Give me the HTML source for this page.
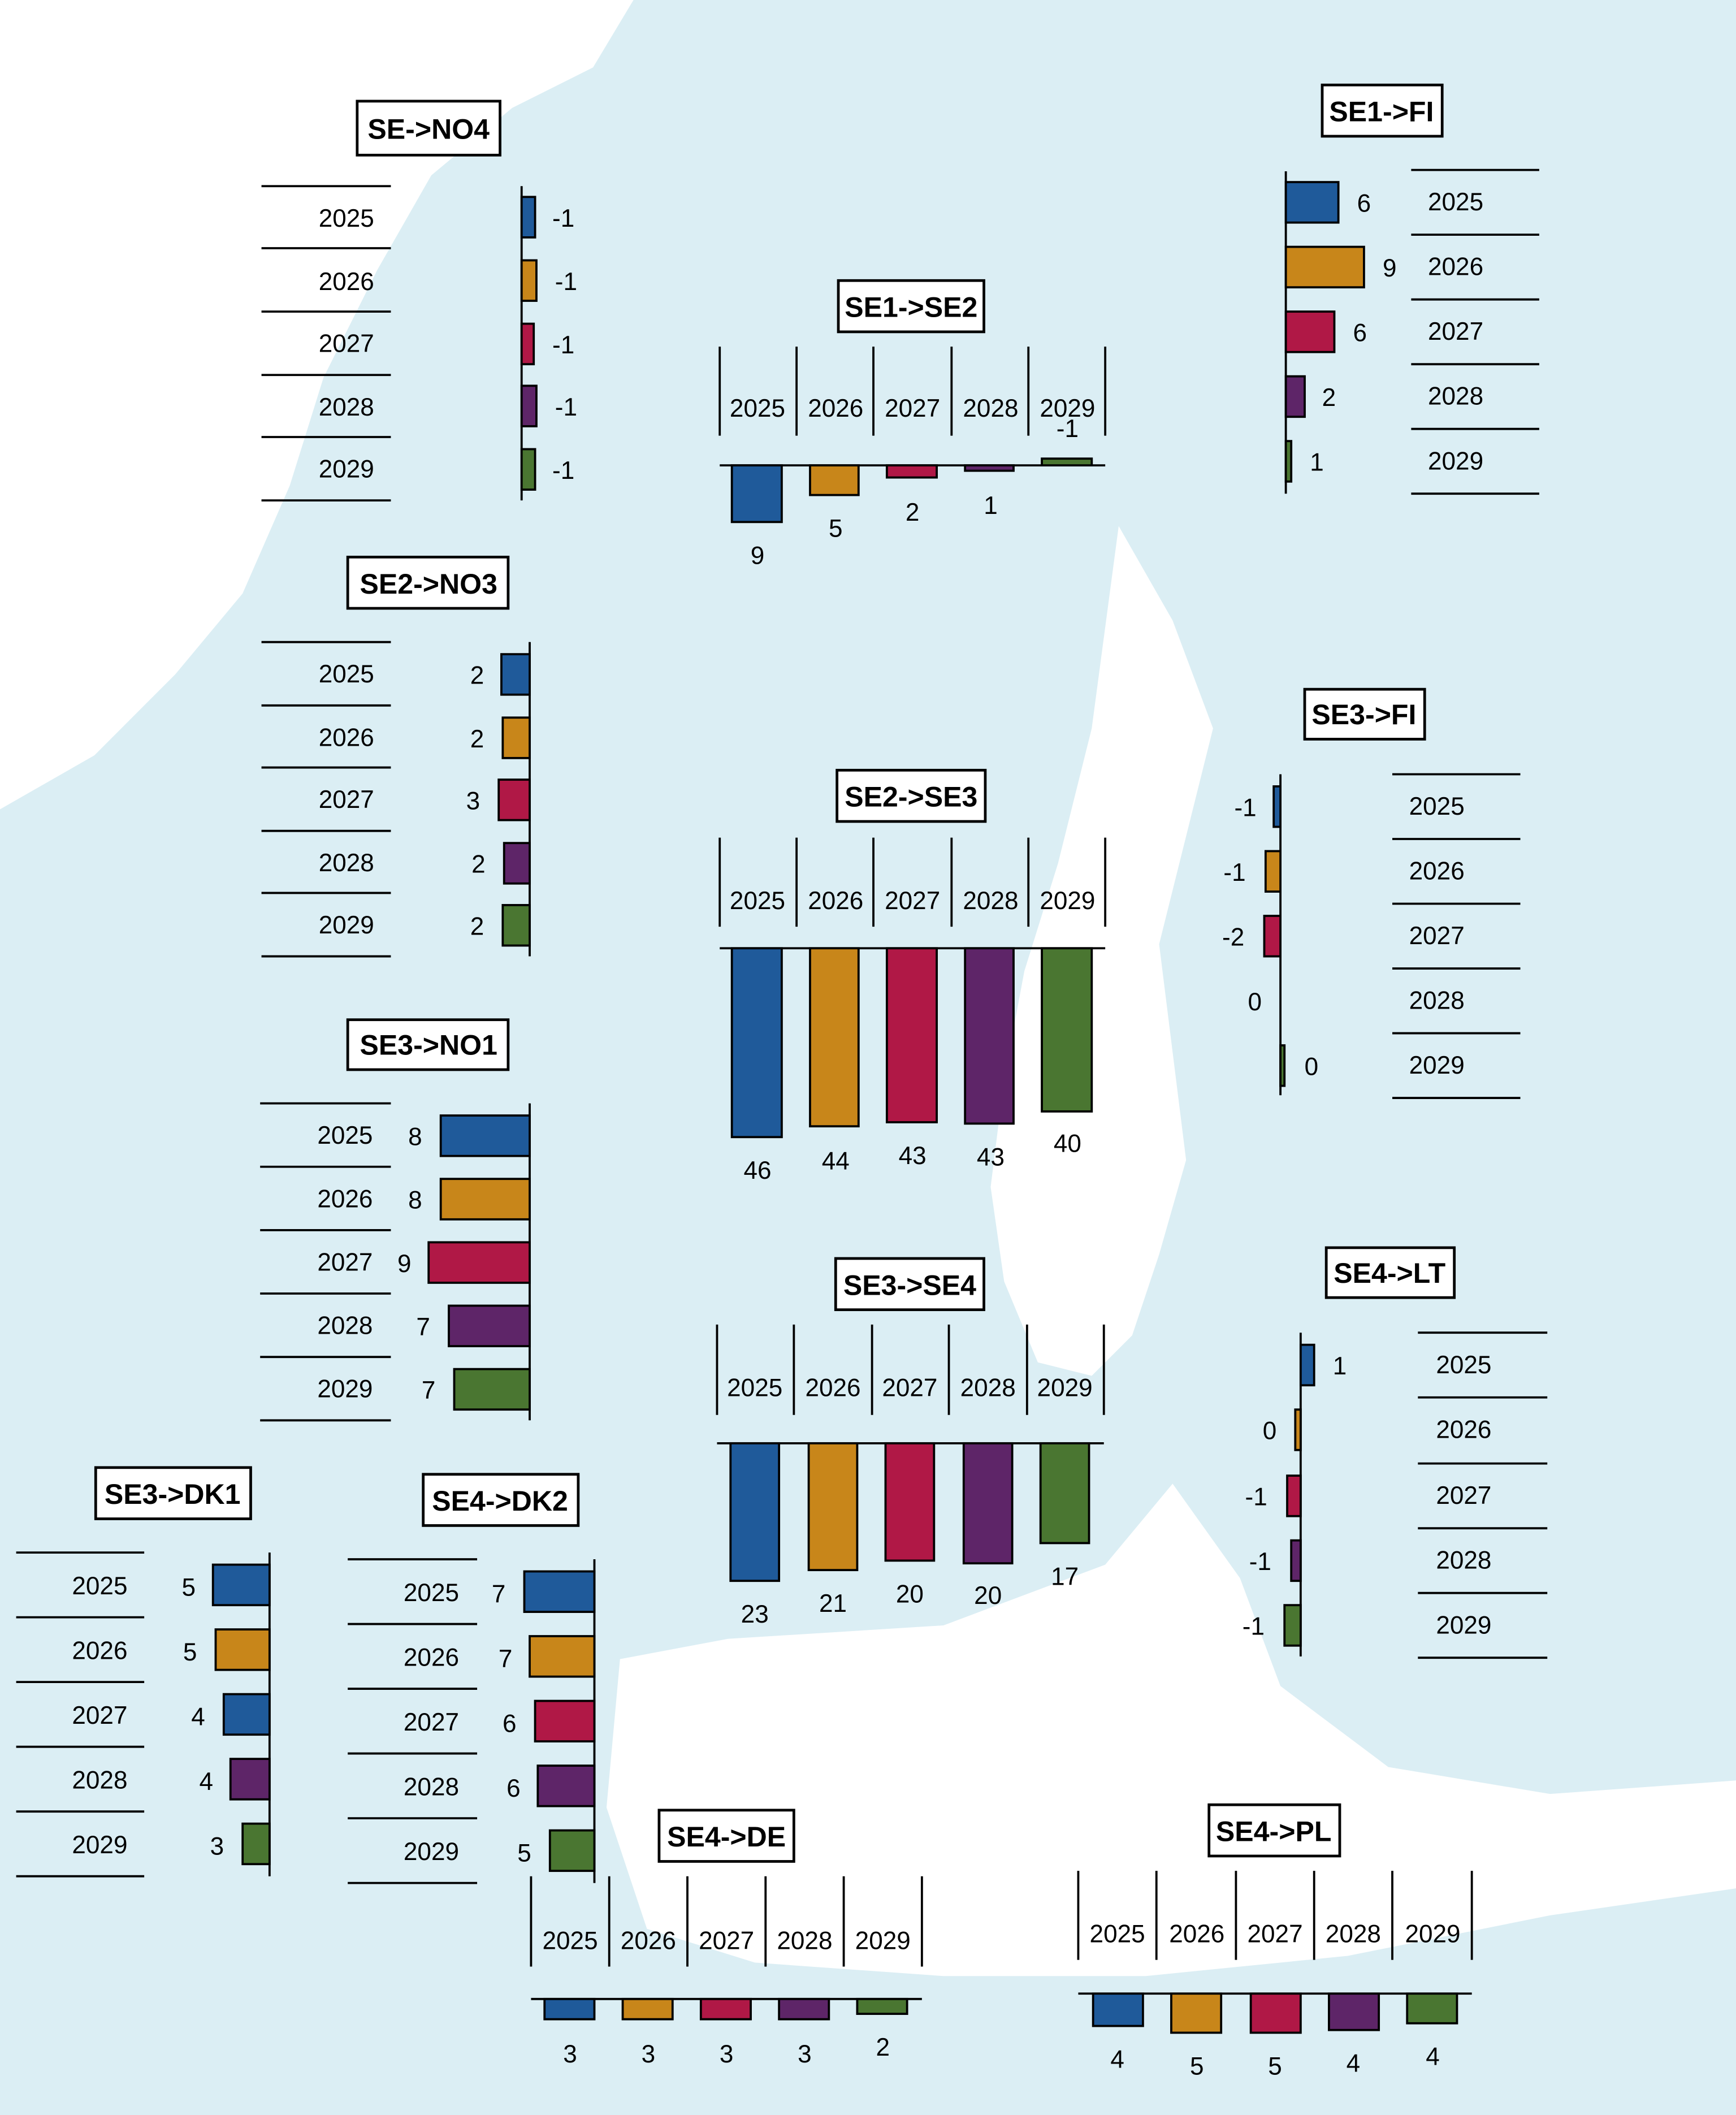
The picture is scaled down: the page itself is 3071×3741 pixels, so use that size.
<!DOCTYPE html>
<html><head><meta charset="utf-8"><style>
html,body{margin:0;padding:0;background:#fff;}
svg{display:block;}
text{font-family:"Liberation Sans",sans-serif;fill:#000;}
.y{font-size:18.5px;text-anchor:middle;}
.v{font-size:18.5px;text-anchor:middle;}
.t{font-size:21px;font-weight:bold;text-anchor:middle;}
.ln{stroke:#000;stroke-width:1.6;}
.bx{fill:#fff;stroke:#000;stroke-width:2;}
.b{stroke:#000;stroke-width:1.6;}
.c1{fill:#1f5a9a}.c2{fill:#c8861a}.c3{fill:#b01846}.c4{fill:#5e2568}.c5{fill:#4a7631}
</style></head><body>
<svg width="3071" height="3741" viewBox="0 0 1288 1568" preserveAspectRatio="none" xmlns="http://www.w3.org/2000/svg">
<rect width="1288" height="1568" fill="#dbeef4"/>
<!-- sea areas -->
<path d="M0,0 L470,0 L440,50 L380,80 L320,130 L280,200 L240,280 L215,360 L180,440 L130,500 L70,560 L0,600 Z" fill="#fff"/>
<path d="M830,390 L870,460 L900,540 L880,620 L860,700 L870,780 L880,860 L860,930 L840,990 L810,1020 L770,1010 L745,950 L735,880 L745,800 L760,720 L785,640 L810,540 Z" fill="#fff"/>
<path d="M460,1230 L540,1215 L700,1205 L820,1160 L870,1100 L920,1170 L950,1250 L1030,1310 L1150,1330 L1288,1320 L1288,1400 L1150,1420 L1000,1450 L850,1465 L700,1465 L560,1455 L480,1430 L450,1340 Z" fill="#fff"/>

<!-- SE->NO4 -->
<rect class="bx" x="265" y="75" width="106" height="40"/><text class="t" x="318" y="103">SE-&gt;NO4</text>
<g class="ln"><line x1="194" y1="138" x2="290" y2="138"/><line x1="194" y1="184" x2="290" y2="184"/><line x1="194" y1="231" x2="290" y2="231"/><line x1="194" y1="278" x2="290" y2="278"/><line x1="194" y1="324" x2="290" y2="324"/><line x1="194" y1="371" x2="290" y2="371"/><line x1="387" y1="138" x2="387" y2="371"/></g>
<text class="y" x="257" y="168">2025</text><text class="y" x="257" y="215">2026</text><text class="y" x="257" y="261">2027</text><text class="y" x="257" y="308">2028</text><text class="y" x="257" y="354">2029</text>
<rect class="b c1" x="387" y="146" width="10" height="30"/><rect class="b c2" x="387" y="193" width="11" height="30"/><rect class="b c3" x="387" y="240" width="9" height="30"/><rect class="b c4" x="387" y="286" width="11" height="30"/><rect class="b c5" x="387" y="333" width="10" height="30"/>
<text class="v" x="418" y="168">-1</text><text class="v" x="420" y="215">-1</text><text class="v" x="418" y="262">-1</text><text class="v" x="420" y="308">-1</text><text class="v" x="418" y="355">-1</text>

<!-- SE2->NO3 -->
<rect class="bx" x="258" y="413" width="119" height="38"/><text class="t" x="318" y="440">SE2-&gt;NO3</text>
<g class="ln"><line x1="194" y1="476" x2="290" y2="476"/><line x1="194" y1="523" x2="290" y2="523"/><line x1="194" y1="569" x2="290" y2="569"/><line x1="194" y1="616" x2="290" y2="616"/><line x1="194" y1="662" x2="290" y2="662"/><line x1="194" y1="709" x2="290" y2="709"/><line x1="393" y1="476" x2="393" y2="709"/></g>
<text class="y" x="257" y="506">2025</text><text class="y" x="257" y="553">2026</text><text class="y" x="257" y="599">2027</text><text class="y" x="257" y="646">2028</text><text class="y" x="257" y="692">2029</text>
<rect class="b c1" x="372" y="485" width="21" height="30"/><rect class="b c2" x="373" y="532" width="20" height="30"/><rect class="b c3" x="370" y="578" width="23" height="30"/><rect class="b c4" x="374" y="625" width="19" height="30"/><rect class="b c5" x="373" y="671" width="20" height="30"/>
<text class="v" x="354" y="507">2</text><text class="v" x="354" y="554">2</text><text class="v" x="351" y="600">3</text><text class="v" x="355" y="647">2</text><text class="v" x="354" y="693">2</text>

<!-- SE3->NO1 -->
<rect class="bx" x="258" y="756" width="119" height="37"/><text class="t" x="318" y="782">SE3-&gt;NO1</text>
<g class="ln"><line x1="193" y1="818" x2="290" y2="818"/><line x1="193" y1="865" x2="290" y2="865"/><line x1="193" y1="912" x2="290" y2="912"/><line x1="193" y1="959" x2="290" y2="959"/><line x1="193" y1="1006" x2="290" y2="1006"/><line x1="193" y1="1053" x2="290" y2="1053"/><line x1="393" y1="818" x2="393" y2="1053"/></g>
<text class="y" x="256" y="848">2025</text><text class="y" x="256" y="895">2026</text><text class="y" x="256" y="942">2027</text><text class="y" x="256" y="989">2028</text><text class="y" x="256" y="1036">2029</text>
<rect class="b c1" x="327" y="827" width="66" height="30"/><rect class="b c2" x="327" y="874" width="66" height="30"/><rect class="b c3" x="318" y="921" width="75" height="30"/><rect class="b c4" x="333" y="968" width="60" height="30"/><rect class="b c5" x="337" y="1015" width="56" height="30"/>
<text class="v" x="308" y="849">8</text><text class="v" x="308" y="896">8</text><text class="v" x="300" y="943">9</text><text class="v" x="314" y="990">7</text><text class="v" x="318" y="1037">7</text>

<!-- SE3->DK1 -->
<rect class="bx" x="71" y="1088" width="115" height="38"/><text class="t" x="128" y="1115">SE3-&gt;DK1</text>
<g class="ln"><line x1="12" y1="1151" x2="107" y2="1151"/><line x1="12" y1="1199" x2="107" y2="1199"/><line x1="12" y1="1247" x2="107" y2="1247"/><line x1="12" y1="1295" x2="107" y2="1295"/><line x1="12" y1="1343" x2="107" y2="1343"/><line x1="12" y1="1391" x2="107" y2="1391"/><line x1="200" y1="1151" x2="200" y2="1391"/></g>
<text class="y" x="74" y="1182">2025</text><text class="y" x="74" y="1230">2026</text><text class="y" x="74" y="1278">2027</text><text class="y" x="74" y="1326">2028</text><text class="y" x="74" y="1374">2029</text>
<rect class="b c1" x="158" y="1160" width="42" height="30"/><rect class="b c2" x="160" y="1208" width="40" height="30"/><rect class="b c1" x="166" y="1256" width="34" height="30"/><rect class="b c4" x="171" y="1304" width="29" height="30"/><rect class="b c5" x="180" y="1352" width="20" height="30"/>
<text class="v" x="140" y="1183">5</text><text class="v" x="141" y="1231">5</text><text class="v" x="147" y="1279">4</text><text class="v" x="153" y="1327">4</text><text class="v" x="161" y="1375">3</text>

<!-- SE4->DK2 -->
<rect class="bx" x="314" y="1093" width="115" height="38"/><text class="t" x="371" y="1120">SE4-&gt;DK2</text>
<g class="ln"><line x1="258" y1="1156" x2="354" y2="1156"/><line x1="258" y1="1204" x2="354" y2="1204"/><line x1="258" y1="1252" x2="354" y2="1252"/><line x1="258" y1="1300" x2="354" y2="1300"/><line x1="258" y1="1348" x2="354" y2="1348"/><line x1="258" y1="1396" x2="354" y2="1396"/><line x1="441" y1="1156" x2="441" y2="1396"/></g>
<text class="y" x="320" y="1187">2025</text><text class="y" x="320" y="1235">2026</text><text class="y" x="320" y="1283">2027</text><text class="y" x="320" y="1331">2028</text><text class="y" x="320" y="1379">2029</text>
<rect class="b c1" x="389" y="1165" width="52" height="30"/><rect class="b c2" x="393" y="1213" width="48" height="30"/><rect class="b c3" x="397" y="1261" width="44" height="30"/><rect class="b c4" x="399" y="1309" width="42" height="30"/><rect class="b c5" x="408" y="1357" width="33" height="30"/>
<text class="v" x="370" y="1188">7</text><text class="v" x="375" y="1236">7</text><text class="v" x="378" y="1284">6</text><text class="v" x="381" y="1332">6</text><text class="v" x="389" y="1380">5</text>

<!-- SE1->FI -->
<rect class="bx" x="981" y="63" width="89" height="38"/><text class="t" x="1025" y="90">SE1-&gt;FI</text>
<g class="ln"><line x1="1047" y1="126" x2="1142" y2="126"/><line x1="1047" y1="174" x2="1142" y2="174"/><line x1="1047" y1="222" x2="1142" y2="222"/><line x1="1047" y1="270" x2="1142" y2="270"/><line x1="1047" y1="318" x2="1142" y2="318"/><line x1="1047" y1="366" x2="1142" y2="366"/><line x1="954" y1="127" x2="954" y2="366"/></g>
<text class="y" x="1080" y="156">2025</text><text class="y" x="1080" y="204">2026</text><text class="y" x="1080" y="252">2027</text><text class="y" x="1080" y="300">2028</text><text class="y" x="1080" y="348">2029</text>
<rect class="b c1" x="954" y="135" width="39" height="30"/><rect class="b c2" x="954" y="183" width="58" height="30"/><rect class="b c3" x="954" y="231" width="36" height="30"/><rect class="b c4" x="954" y="279" width="14" height="30"/><rect class="b c5" x="954" y="327" width="4" height="30"/>
<text class="v" x="1012" y="157">6</text><text class="v" x="1031" y="205">9</text><text class="v" x="1009" y="253">6</text><text class="v" x="986" y="301">2</text><text class="v" x="977" y="349">1</text>

<!-- SE3->FI -->
<rect class="bx" x="968" y="511" width="89" height="37"/><text class="t" x="1012" y="537">SE3-&gt;FI</text>
<g class="ln"><line x1="1033" y1="574" x2="1128" y2="574"/><line x1="1033" y1="622" x2="1128" y2="622"/><line x1="1033" y1="670" x2="1128" y2="670"/><line x1="1033" y1="718" x2="1128" y2="718"/><line x1="1033" y1="766" x2="1128" y2="766"/><line x1="1033" y1="814" x2="1128" y2="814"/><line x1="950" y1="574" x2="950" y2="812"/></g>
<text class="y" x="1066" y="604">2025</text><text class="y" x="1066" y="652">2026</text><text class="y" x="1066" y="700">2027</text><text class="y" x="1066" y="748">2028</text><text class="y" x="1066" y="796">2029</text>
<rect class="b c1" x="945" y="583" width="5" height="30"/><rect class="b c2" x="939" y="631" width="11" height="30"/><rect class="b c3" x="938" y="679" width="12" height="30"/><rect class="b c5" x="950" y="775" width="3" height="30"/>
<text class="v" x="924" y="605">-1</text><text class="v" x="916" y="653">-1</text><text class="v" x="915" y="701">-2</text><text class="v" x="931" y="749">0</text><text class="v" x="973" y="797">0</text>

<!-- SE4->LT -->
<rect class="bx" x="984" y="925" width="95" height="37"/><text class="t" x="1031" y="951">SE4-&gt;LT</text>
<g class="ln"><line x1="1052" y1="988" x2="1148" y2="988"/><line x1="1052" y1="1036" x2="1148" y2="1036"/><line x1="1052" y1="1085" x2="1148" y2="1085"/><line x1="1052" y1="1133" x2="1148" y2="1133"/><line x1="1052" y1="1181" x2="1148" y2="1181"/><line x1="1052" y1="1229" x2="1148" y2="1229"/><line x1="965" y1="988" x2="965" y2="1228"/></g>
<text class="y" x="1086" y="1018">2025</text><text class="y" x="1086" y="1066">2026</text><text class="y" x="1086" y="1115">2027</text><text class="y" x="1086" y="1163">2028</text><text class="y" x="1086" y="1211">2029</text>
<rect class="b c1" x="965" y="997" width="10" height="30"/><rect class="b c2" x="961" y="1045" width="4" height="30"/><rect class="b c3" x="955" y="1094" width="10" height="30"/><rect class="b c4" x="958" y="1142" width="7" height="30"/><rect class="b c5" x="953" y="1190" width="12" height="30"/>
<text class="v" x="994" y="1019">1</text><text class="v" x="942" y="1067">0</text><text class="v" x="932" y="1116">-1</text><text class="v" x="935" y="1164">-1</text><text class="v" x="930" y="1212">-1</text>

<!-- SE1->SE2 -->
<rect class="bx" x="622" y="208" width="108" height="38"/><text class="t" x="676" y="235">SE1-&gt;SE2</text>
<g class="ln"><line x1="534" y1="257" x2="534" y2="323"/><line x1="591" y1="257" x2="591" y2="323"/><line x1="648" y1="257" x2="648" y2="323"/><line x1="706" y1="257" x2="706" y2="323"/><line x1="763" y1="257" x2="763" y2="323"/><line x1="820" y1="257" x2="820" y2="323"/><line x1="534" y1="345" x2="820" y2="345"/></g>
<text class="y" x="562" y="309">2025</text><text class="y" x="620" y="309">2026</text><text class="y" x="677" y="309">2027</text><text class="y" x="735" y="309">2028</text><text class="y" x="792" y="309">2029</text>
<rect class="b c1" x="543" y="345" width="37" height="42"/><rect class="b c2" x="601" y="345" width="36" height="22"/><rect class="b c3" x="658" y="345" width="37" height="9"/><rect class="b c4" x="716" y="345" width="36" height="4"/><rect class="b c5" x="773" y="340" width="37" height="5"/>
<text class="v" x="562" y="418">9</text><text class="v" x="620" y="398">5</text><text class="v" x="677" y="386">2</text><text class="v" x="735" y="381">1</text><text class="v" x="792" y="324">-1</text>

<!-- SE2->SE3 -->
<rect class="bx" x="621" y="571" width="110" height="38"/><text class="t" x="676" y="598">SE2-&gt;SE3</text>
<g class="ln"><line x1="534" y1="621" x2="534" y2="687"/><line x1="591" y1="621" x2="591" y2="687"/><line x1="648" y1="621" x2="648" y2="687"/><line x1="706" y1="621" x2="706" y2="687"/><line x1="763" y1="621" x2="763" y2="687"/><line x1="820" y1="621" x2="820" y2="687"/><line x1="534" y1="703" x2="820" y2="703"/></g>
<text class="y" x="562" y="674">2025</text><text class="y" x="620" y="674">2026</text><text class="y" x="677" y="674">2027</text><text class="y" x="735" y="674">2028</text><text class="y" x="792" y="674">2029</text>
<rect class="b c1" x="543" y="703" width="37" height="140"/><rect class="b c2" x="601" y="703" width="36" height="132"/><rect class="b c3" x="658" y="703" width="37" height="129"/><rect class="b c4" x="716" y="703" width="36" height="130"/><rect class="b c5" x="773" y="703" width="37" height="121"/>
<text class="v" x="562" y="874">46</text><text class="v" x="620" y="867">44</text><text class="v" x="677" y="863">43</text><text class="v" x="735" y="864">43</text><text class="v" x="792" y="854">40</text>

<!-- SE3->SE4 -->
<rect class="bx" x="620" y="933" width="110" height="38"/><text class="t" x="675" y="960">SE3-&gt;SE4</text>
<g class="ln"><line x1="532" y1="982" x2="532" y2="1049"/><line x1="589" y1="982" x2="589" y2="1049"/><line x1="647" y1="982" x2="647" y2="1049"/><line x1="704" y1="982" x2="704" y2="1049"/><line x1="762" y1="982" x2="762" y2="1049"/><line x1="819" y1="982" x2="819" y2="1049"/><line x1="532" y1="1070" x2="819" y2="1070"/></g>
<text class="y" x="560" y="1035">2025</text><text class="y" x="618" y="1035">2026</text><text class="y" x="675" y="1035">2027</text><text class="y" x="733" y="1035">2028</text><text class="y" x="790" y="1035">2029</text>
<rect class="b c1" x="542" y="1070" width="36" height="102"/><rect class="b c2" x="600" y="1070" width="36" height="94"/><rect class="b c3" x="657" y="1070" width="36" height="87"/><rect class="b c4" x="715" y="1070" width="36" height="89"/><rect class="b c5" x="772" y="1070" width="36" height="74"/>
<text class="v" x="560" y="1203">23</text><text class="v" x="618" y="1195">21</text><text class="v" x="675" y="1188">20</text><text class="v" x="733" y="1189">20</text><text class="v" x="790" y="1175">17</text>

<!-- SE4->DE -->
<rect class="bx" x="489" y="1342" width="100" height="38"/><text class="t" x="539" y="1369">SE4-&gt;DE</text>
<g class="ln"><line x1="394" y1="1391" x2="394" y2="1458"/><line x1="452" y1="1391" x2="452" y2="1458"/><line x1="510" y1="1391" x2="510" y2="1458"/><line x1="568" y1="1391" x2="568" y2="1458"/><line x1="626" y1="1391" x2="626" y2="1458"/><line x1="684" y1="1391" x2="684" y2="1458"/><line x1="394" y1="1482" x2="684" y2="1482"/></g>
<text class="y" x="423" y="1445">2025</text><text class="y" x="481" y="1445">2026</text><text class="y" x="539" y="1445">2027</text><text class="y" x="597" y="1445">2028</text><text class="y" x="655" y="1445">2029</text>
<rect class="b c1" x="404" y="1482" width="37" height="15"/><rect class="b c2" x="462" y="1482" width="37" height="15"/><rect class="b c3" x="520" y="1482" width="37" height="15"/><rect class="b c4" x="578" y="1482" width="37" height="15"/><rect class="b c5" x="636" y="1482" width="37" height="11"/>
<text class="v" x="423" y="1529">3</text><text class="v" x="481" y="1529">3</text><text class="v" x="539" y="1529">3</text><text class="v" x="597" y="1529">3</text><text class="v" x="655" y="1524">2</text>

<!-- SE4->PL -->
<rect class="bx" x="897" y="1338" width="97" height="38"/><text class="t" x="945" y="1365">SE4-&gt;PL</text>
<g class="ln"><line x1="800" y1="1387" x2="800" y2="1453"/><line x1="858" y1="1387" x2="858" y2="1453"/><line x1="917" y1="1387" x2="917" y2="1453"/><line x1="975" y1="1387" x2="975" y2="1453"/><line x1="1033" y1="1387" x2="1033" y2="1453"/><line x1="1092" y1="1387" x2="1092" y2="1453"/><line x1="800" y1="1478" x2="1092" y2="1478"/></g>
<text class="y" x="829" y="1440">2025</text><text class="y" x="888" y="1440">2026</text><text class="y" x="946" y="1440">2027</text><text class="y" x="1004" y="1440">2028</text><text class="y" x="1063" y="1440">2029</text>
<rect class="b c1" x="811" y="1478" width="37" height="24"/><rect class="b c2" x="869" y="1478" width="37" height="29"/><rect class="b c3" x="928" y="1478" width="37" height="29"/><rect class="b c4" x="986" y="1478" width="37" height="27"/><rect class="b c5" x="1044" y="1478" width="37" height="22"/>
<text class="v" x="829" y="1533">4</text><text class="v" x="888" y="1538">5</text><text class="v" x="946" y="1538">5</text><text class="v" x="1004" y="1536">4</text><text class="v" x="1063" y="1531">4</text>
</svg>
</body></html>
